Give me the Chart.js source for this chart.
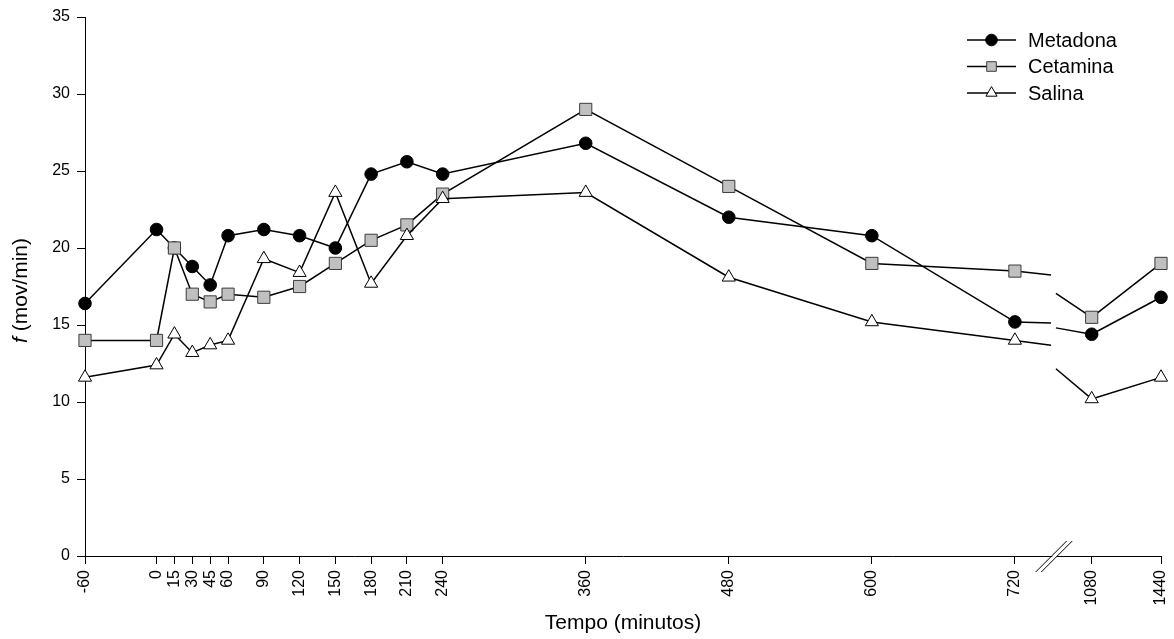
<!DOCTYPE html>
<html>
<head>
<meta charset="utf-8">
<title>f (mov/min)</title>
<script src="https://cdn.jsdelivr.net/npm/chart.js@4.4.1/dist/chart.umd.min.js"></script>
<style>
 html, body { margin: 0; padding: 0; background: #fff; }
 canvas { display: block; }
</style>
</head>
<body>
<canvas id="chart" width="1174" height="639"></canvas>
<script>
const times = [-60, 0, 15, 30, 45, 60, 90, 120, 150, 180, 210, 240, 360, 480, 600, 720, 1080, 1440];
const tickLabels = ['-60', '0', '15', '30', '45', '60', '90', '120', '150', '180', '210', '240', '360', '480', '600', '720', '1080', '1440'];
const seriesNames = ['Metadona', 'Cetamina', 'Salina'];
const metadona = [16.4, 21.2, 20.0, 18.8, 17.6, 20.8, 21.2, 20.8, 20.0, 24.8, 25.6, 24.8, 26.8, 22.0, 20.8, 15.2, 14.4, 16.8];
const cetamina = [14.0, 14.0, 20.0, 17.0, 16.5, 17.0, 16.8, 17.5, 19.0, 20.5, 21.5, 23.5, 29.0, 24.0, 19.0, 18.5, 15.5, 19.0];
const salina = [11.6, 12.4, 14.4, 13.2, 13.7, 14.0, 19.3, 18.4, 23.6, 17.7, 20.8, 23.2, 23.6, 18.1, 15.2, 14.0, 10.2, 11.6];
const yMin = 0, yMax = 35, yStep = 5;
const xTitle = 'Tempo (minutos)';

const FONT = '"Liberation Sans", Arial, sans-serif';

// the time axis is broken between 720 and 1080, after the break it is compressed
const brk = { from: 720, to: 1080, at: 784.4, k: 0.1615, gapL: 750.3, gapR: 754.4 };
function axisX(t) {
  return t <= brk.from ? t : brk.at + (t - brk.to) * brk.k;
}

const series = [metadona, cetamina, salina];
const marks = [
  { style: 'circle', r: 6.3, lr: 5.8, fill: '#000', stroke: '#000' },
  { style: 'rect', r: 8.6, lr: 6.8, fill: '#c0c0c0', stroke: '#3c3c3c' },
  { style: 'triangle', r: 7.6, lr: 6.4, fill: '#fff', stroke: '#000' }
];

function drawMarker(ctx, m, x, y, r) {
  ctx.beginPath();
  if (m.style === 'circle') {
    ctx.arc(x, y, r, 0, Math.PI * 2);
  } else if (m.style === 'rect') {
    const s = r * Math.SQRT1_2;
    ctx.rect(x - s, y - s, 2 * s, 2 * s);
  } else {
    ctx.moveTo(x, y - r);
    ctx.lineTo(x + r * Math.sin(2 * Math.PI / 3), y - r * Math.cos(2 * Math.PI / 3));
    ctx.lineTo(x + r * Math.sin(4 * Math.PI / 3), y - r * Math.cos(4 * Math.PI / 3));
    ctx.closePath();
  }
  ctx.fillStyle = m.fill;
  ctx.strokeStyle = m.stroke;
  ctx.lineWidth = 1;
  ctx.fill();
  ctx.stroke();
}

const breakPlugin = {
  id: 'axisBreak',
  beforeDatasetsDraw(chart) {
    const xs = chart.scales.x, ys = chart.scales.y, ctx = chart.ctx;
    const i = times.indexOf(brk.from), j = times.indexOf(brk.to);
    const xFromR = brk.at - (brk.to - brk.from) * brk.k;
    ctx.save();
    ctx.strokeStyle = '#000';
    ctx.lineWidth = 1.5;
    series.forEach(vals => {
      const a = vals[i], b = vals[j];
      const yl = a + (b - a) * (brk.gapL - brk.from) / (brk.to - brk.from);
      const yr = a + (b - a) * (brk.gapR - xFromR) / (brk.at - xFromR);
      ctx.beginPath();
      ctx.moveTo(xs.getPixelForValue(brk.from), ys.getPixelForValue(a));
      ctx.lineTo(xs.getPixelForValue(brk.gapL), ys.getPixelForValue(yl));
      ctx.moveTo(xs.getPixelForValue(brk.gapR), ys.getPixelForValue(yr));
      ctx.lineTo(xs.getPixelForValue(brk.at), ys.getPixelForValue(b));
      ctx.stroke();
    });
    ctx.restore();
  },
  afterDraw(chart) {
    const xs = chart.scales.x, ctx = chart.ctx, ca = chart.chartArea;
    const xm = (xs.getPixelForValue(brk.gapL) + xs.getPixelForValue(brk.gapR)) / 2 + 1;
    const yb = ca.bottom;
    ctx.save();
    ctx.fillStyle = '#fff';
    ctx.fillRect(xm - 2.2, yb - 3, 4.4, 6);
    ctx.beginPath();
    [-2.8, 2.8].forEach(dx => {
      ctx.moveTo(xm + dx - 16, yb + 16);
      ctx.lineTo(xm + dx + 15, yb - 15);
    });
    ctx.strokeStyle = '#000';
    ctx.lineWidth = 1;
    ctx.stroke();

    // y title with italic f
    ctx.translate(21, (ca.top + ca.bottom) / 2 + 4);
    ctx.rotate(-Math.PI / 2);
    ctx.textBaseline = 'middle';
    ctx.fillStyle = '#000';
    const fi = 'italic 21px ' + FONT, fn = '21px ' + FONT;
    ctx.font = fi;
    const w1 = ctx.measureText('f').width;
    ctx.font = fn;
    const w2 = ctx.measureText(' (mov/min)').width;
    const x0 = -(w1 + w2) / 2;
    ctx.font = fi;
    ctx.fillText('f', x0, 0);
    ctx.font = fn;
    ctx.fillText(' (mov/min)', x0 + w1, 0);
    ctx.restore();

    // legend
    ctx.save();
    chart.data.datasets.forEach((ds, k) => {
      const y = 40 + k * 26.5;
      ctx.beginPath();
      ctx.moveTo(967, y);
      ctx.lineTo(1016, y);
      ctx.strokeStyle = '#000';
      ctx.lineWidth = 1.5;
      ctx.stroke();
      drawMarker(ctx, marks[k], 991.5, y, marks[k].lr);
      ctx.fillStyle = '#000';
      ctx.font = '20px ' + FONT;
      ctx.textBaseline = 'middle';
      ctx.textAlign = 'left';
      ctx.fillText(ds.label, 1028, y + 1);
    });
    ctx.restore();
  }
};

const datasets = series.map((vals, k) => ({
  label: seriesNames[k],
  data: vals.map((v, n) => ({ x: axisX(times[n]), y: v })),
  borderColor: '#000',
  borderWidth: 1.5,
  pointStyle: marks[k].style,
  pointRadius: marks[k].r,
  pointBackgroundColor: marks[k].fill,
  pointBorderColor: marks[k].stroke,
  pointBorderWidth: 1,
  tension: 0,
  clip: false,
  order: 3 - k,
  segment: {
    borderColor: c => times[c.p0DataIndex] === brk.from ? 'rgba(0,0,0,0)' : '#000'
  }
}));

new Chart(document.getElementById('chart').getContext('2d'), {
  type: 'line',
  data: { datasets },
  options: {
    responsive: false,
    animation: false,
    events: [],
    layout: { padding: { top: 17, right: 13, left: 0, bottom: 0 } },
    plugins: { legend: { display: false }, tooltip: { enabled: false } },
    scales: {
      x: {
        type: 'linear',
        min: axisX(-60),
        max: axisX(1440),
        afterBuildTicks: s => { s.ticks = times.map(t => ({ value: axisX(t) })); },
        afterFit: s => { s.height = 83; s.paddingLeft = 0; s.paddingRight = 0; },
        ticks: {
          autoSkip: false,
          minRotation: 90,
          maxRotation: 90,
          padding: 6,
          color: '#000',
          font: { family: FONT, size: 16 },
          callback: (v, i) => tickLabels[i]
        },
        grid: { drawOnChartArea: false, drawTicks: true, tickLength: 8, color: '#000' },
        border: { display: true, color: '#000', width: 1 },
        title: { display: true, text: xTitle, color: '#000', font: { family: FONT, size: 21 }, padding: { top: 0, bottom: 3 } }
      },
      y: {
        min: yMin,
        max: yMax,
        afterFit: s => { s.width = 85; s.paddingTop = 0; s.paddingBottom = 0; },
        ticks: { stepSize: yStep, padding: 7, color: '#000', font: { family: FONT, size: 16 } },
        grid: { drawOnChartArea: false, drawTicks: true, tickLength: 8, color: '#000' },
        border: { display: true, color: '#000', width: 1 }
      }
    }
  },
  plugins: [breakPlugin]
});
</script>
</body>
</html>
